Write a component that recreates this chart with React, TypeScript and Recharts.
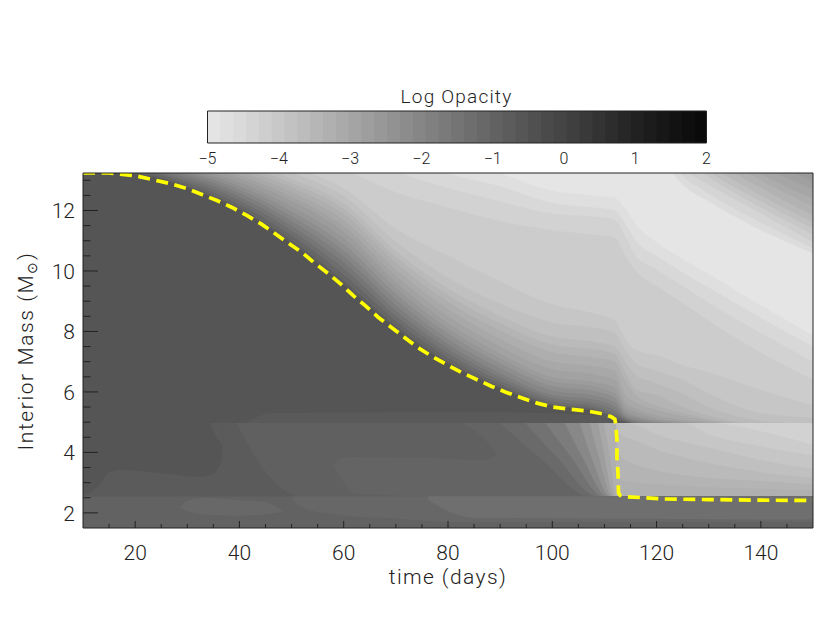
import React from 'react';
import { Area, ComposedChart, Label, Line, XAxis, YAxis } from 'recharts';

const FONT = 'Roboto, "DejaVu Sans", sans-serif';
const INK = '#222222';

// axis values
const timeTicks = [15, 20, 25, 30, 35, 40, 45, 50, 55, 60, 65, 70, 75, 80, 85, 90, 95, 100, 105, 110, 115, 120, 125, 130, 135, 140, 145];
const massTicks = [2, 2.5, 3, 3.5, 4, 4.5, 5, 5.5, 6, 6.5, 7, 7.5, 8, 8.5, 9, 9.5, 10, 10.5, 11, 11.5, 12, 12.5, 13];
const opacityTicks = [-5, -4, -3, -2, -1, 0, 1, 2];

// colour bar steps, left edge of each
const opacityBins = [-5, -4.82, -4.64, -4.46, -4.28, -4.1, -3.92, -3.74, -3.56, -3.38, -3.2, -3.02, -2.84, -2.66, -2.48, -2.3, -2.12, -1.94, -1.76, -1.58, -1.4, -1.22, -1.04, -0.86, -0.68, -0.5, -0.32, -0.14, 0.04, 0.22, 0.4, 0.58, 0.76, 0.94, 1.12, 1.3, 1.48, 1.66, 1.84];
const binGreys = ['#e4e4e4', '#dfdfdf', '#dadada', '#d4d4d4', '#cecece', '#c8c8c8', '#c2c2c2', '#bcbcbc', '#b6b6b6', '#b0b0b0', '#aaaaaa', '#a4a4a4', '#9e9e9e', '#989898', '#929292', '#8c8c8c', '#868686', '#808080', '#7a7a7a', '#747474', '#6e6e6e', '#686868', '#626262', '#5c5c5c', '#565656', '#505050', '#4a4a4a', '#454545', '#3f3f3f', '#393939', '#333333', '#2d2d2d', '#272727', '#212121', '#1c1c1c', '#171717', '#121212', '#0e0e0e', '#0a0a0a'];

// contours of the envelope above the photosphere, one mass per time
const gridTimes = [10, 20, 30, 40, 50, 60, 70, 80, 90, 100, 108, 112, 114, 116, 120, 125, 130, 140, 150];
const mass5e = [13.3, 13.2, 12.76, 12.02, 10.91, 9.56, 8.09, 6.94, 6.11, 5.53, 5.36, 5.05, 5.0, 4.9, 4.9, 4.9, 4.9, 4.9, 4.9];
const mass66 = [13.3, 13.24, 12.81, 12.09, 11.01, 9.68, 8.19, 7.01, 6.17, 5.57, 5.4, 5.13, 5.02, 4.92, 4.9, 4.9, 4.9, 4.9, 4.9];
const mass6e = [13.3, 13.3, 12.9, 12.21, 11.17, 9.88, 8.35, 7.14, 6.26, 5.62, 5.45, 5.2, 5.05, 4.95, 4.9, 4.9, 4.9, 4.9, 4.9];
const mass76 = [13.4, 13.35, 12.99, 12.33, 11.33, 10.08, 8.52, 7.28, 6.37, 5.7, 5.53, 5.28, 5.08, 4.97, 4.9, 4.9, 4.9, 4.9, 4.9];
const mass7e = [13.4, 13.4, 13.08, 12.45, 11.49, 10.28, 8.69, 7.43, 6.49, 5.8, 5.63, 5.38, 5.12, 5.0, 4.92, 4.9, 4.9, 4.9, 4.9];
const mass86 = [13.5, 13.45, 13.17, 12.57, 11.65, 10.48, 8.87, 7.58, 6.62, 5.9, 5.75, 5.5, 5.16, 5.05, 4.96, 4.9, 4.9, 4.9, 4.9];
const mass8e = [13.5, 13.5, 13.26, 12.69, 11.81, 10.68, 9.06, 7.75, 6.78, 6.05, 5.88, 5.65, 5.2, 5.1, 5.0, 4.92, 4.9, 4.9, 4.9];
const mass96 = [13.6, 13.6, 13.35, 12.81, 11.97, 10.88, 9.25, 7.93, 6.95, 6.2, 6.03, 5.8, 5.3, 5.17, 5.04, 4.96, 4.92, 4.9, 4.9];
const mass9c = [13.7, 13.7, 13.44, 12.93, 12.13, 11.08, 9.44, 8.1, 7.11, 6.35, 6.18, 5.95, 5.4, 5.23, 5.07, 5.0, 4.95, 4.9, 4.9];
const massA2 = [13.8, 13.8, 13.54, 13.06, 12.31, 11.3, 9.63, 8.28, 7.27, 6.49, 6.32, 6.15, 5.52, 5.35, 5.13, 5.02, 4.96, 4.9, 4.9];
const massA8 = [13.9, 13.9, 13.62, 13.17, 12.45, 11.48, 9.83, 8.5, 7.5, 6.75, 6.58, 6.4, 5.66, 5.46, 5.23, 5.08, 5.0, 4.9, 4.9];
const massAe = [14, 14, 13.71, 13.29, 12.61, 11.68, 10.05, 8.74, 7.75, 7.01, 6.85, 6.7, 5.9, 5.66, 5.4, 5.2, 5.05, 4.9, 4.9];
const massB4 = [14.1, 14.1, 13.8, 13.41, 12.77, 11.88, 10.27, 8.98, 8.03, 7.31, 7.14, 7.0, 6.39, 5.9, 5.56, 5.3, 5.1, 4.92, 4.9];
const massBa = [14.1, 14.1, 13.88, 13.52, 12.91, 12.06, 10.47, 9.2, 8.27, 7.57, 7.4, 7.25, 6.65, 6.1, 5.9, 5.5, 5.2, 4.95, 4.9];
const massC0 = [14.2, 14.2, 13.96, 13.62, 13.05, 12.23, 10.66, 9.42, 8.51, 7.83, 7.66, 7.5, 7.0, 6.55, 6.29, 5.95, 5.5, 5.05, 4.93];
const massC6 = [14.2, 14.2, 14.07, 13.77, 13.25, 12.48, 10.97, 9.78, 8.92, 8.3, 8.13, 7.95, 7.4, 6.95, 6.7, 6.4, 5.95, 5.3, 5.15];
const massCc = [14.3, 14.3, 14.18, 13.92, 13.45, 12.73, 11.4, 10.5, 9.65, 8.9, 8.6, 8.37, 7.75, 7.38, 7.21, 6.88, 6.65, 6.06, 5.56];
const massD2 = [14.5, 14.5, 14.5, 14.5, 14.4, 13.4, 12.6, 12.1, 11.65, 11.35, 11.2, 11.1, 10.5, 10.0, 9.5, 8.95, 8.35, 7.3, 6.4];
const massD8 = [14.6, 14.6, 14.6, 14.6, 14.6, 14.2, 13.3, 12.75, 12.3, 11.9, 11.8, 11.7, 11.15, 10.5, 10.05, 9.5, 8.95, 7.95, 7.0];
const massDf = [14.7, 14.7, 14.7, 14.7, 14.7, 14.7, 14.1, 13.24, 12.8, 12.25, 12.1, 12.0, 11.55, 11.0, 10.5, 9.95, 9.45, 8.45, 7.5];
const massE5 = [14.8, 14.8, 14.8, 14.8, 14.8, 14.8, 14.8, 14, 13.24, 12.65, 12.5, 12.42, 12.06, 11.55, 10.95, 10.4, 9.9, 8.86, 7.87];

const upperBands: [string, number[]][] = [
  ['#5e5e5e', mass5e], ['#666666', mass66], ['#6e6e6e', mass6e], ['#767676', mass76], ['#7e7e7e', mass7e], ['#868686', mass86],
  ['#8e8e8e', mass8e], ['#969696', mass96], ['#9c9c9c', mass9c], ['#a2a2a2', massA2], ['#a8a8a8', massA8], ['#aeaeae', massAe],
  ['#b4b4b4', massB4], ['#bababa', massBa], ['#c0c0c0', massC0], ['#c6c6c6', massC6], ['#cccccc', massCc], ['#d2d2d2', massD2],
  ['#d8d8d8', massD8], ['#dfdfdf', massDf], ['#e5e5e5', massE5],
];

// dark corner at the top right
const cornerTimes = [120, 125, 130, 140, 150];
const cornerDc = [14, 12.85, 12.3, 11.35, 10.58];
const cornerD5 = [14.2, 13.15, 12.55, 11.6, 10.75];
const cornerCe = [14.4, 13.4, 12.85, 11.9, 10.95];
const cornerC7 = [14.6, 13.7, 13.1, 12.1, 11.2];
const cornerC0 = [14.8, 14, 13.3, 12.3, 11.4];
const cornerB9 = [15, 14.3, 13.55, 12.5, 11.62];
const cornerB2 = [15.2, 14.6, 13.8, 12.75, 11.85];
const cornerAc = [15.4, 14.8, 14.05, 13, 12.15];
const cornerA6 = [15.6, 15, 14.3, 13.2, 12.4];
const cornerA0 = [15.8, 15.2, 14.55, 13.5, 12.7];
const corner9a = [16, 15.4, 14.8, 13.8, 12.95];
const cornerBands: [string, number[]][] = [
  ['#dcdcdc', cornerDc], ['#d5d5d5', cornerD5], ['#cecece', cornerCe], ['#c7c7c7', cornerC7], ['#c0c0c0', cornerC0], ['#b9b9b9', cornerB9],
  ['#b2b2b2', cornerB2], ['#acacac', cornerAc], ['#a6a6a6', cornerA6], ['#a0a0a0', cornerA0], ['#9a9a9a', corner9a],
];

// faint shapes inside the dark interior
const stripTimes = [41, 46.4, 69, 88, 111];
const stripTop = [4.97, 5.3, 5.33, 5.33, 5.2];
const pocket5bTimes = [10, 12.9, 15.2, 17.1, 24.8, 32.4, 35, 36, 36.7, 36.9, 112];
const pocket5bHigh = [2.55, 2.87, 3.36, 3.42, 3.32, 3.19, 3.3, 3.5, 3.86, 4.97, 4.97];
const leanTimes = [34.4, 35, 36, 36.8];
const leanLow = [4.97, 4.7, 4.4, 4.2];
const inner60Times = [39.5, 43.4, 50.3, 52, 112];
const inner60Low = [4.97, 3.75, 2.6, 2.55, 2.55];
const island64Times = [57.9, 59.3, 60.6, 62.5, 75.2, 86.7, 89.6, 92, 112];
const island64Low = [3.53, 3.2, 2.83, 2.63, 2.55, 2.55, 2.55, 2.55, 2.55];
const island64High = [3.53, 3.8, 3.85, 3.85, 3.82, 3.75, 3.98, 4.97, 4.97];
const wedge64Times = [82.9, 86.7, 89.6, 92];
const wedge64Low = [4.97, 4.5, 3.98, 3.98];

// below the helium core boundary
const coreTimes = [10, 150];
const coreLow = [1.5, 1.5];
const coreHigh = [2.55, 2.55];
const coreBandTimes = [50.3, 53, 59.3, 71.4, 80, 150];
const coreBandLow = [2.4, 2.1, 1.93, 1.8, 1.7, 1.7];
const coreIslandTimes = [28.6, 30, 33, 36, 40, 44.5, 48.3];
const coreIslandLow = [2.2, 2.05, 1.95, 1.92, 1.9, 1.95, 2.03];
const coreIslandHigh = [2.2, 2.4, 2.5, 2.48, 2.42, 2.38, 2.05];
const corePatchTimes = [76.2, 80.4, 84.8, 150];
const corePatchLow = [2.43, 2.03, 1.84, 1.78];

// fronts that sweep from upper left to lower right, time at three heights
const frontMasses = [4.97, 3.8, 2.55];
const fronts: [string, number[]][] = [
  ['#6a6a6a', [90, 97.7, 107.2]],
  ['#727272', [94.8, 101.1, 108.6]],
  ['#7c7c7c', [98.6, 103.8, 109.7]],
  ['#888888', [102.4, 105.9, 110.5]],
  ['#949494', [105.3, 107.6, 111.1]],
  ['#9e9e9e', [107.2, 109, 111.4]],
  ['#a8a8a8', [108.8, 110.1, 111.8]],
  ['#b0b0b0', [109.9, 111.1, 112.2]],
];

// shells right of the drop
const shellTimes = [112.2, 113, 116, 120, 125, 130, 140, 150];
const shellB4 = [3.3, 3.1, 3.0, 2.95, 2.9, 2.85, 2.8, 2.75];
const shellBa = [4.5, 3.9, 3.6, 3.4, 3.25, 3.15, 3.05, 2.95];
const shellC0 = [4.97, 4.6, 4.4, 4.1, 3.85, 3.65, 3.35, 3.15];
const shellC6 = [4.97, 4.97, 4.9, 4.6, 4.35, 4.15, 3.75, 3.45];
const shellCc = [4.97, 4.97, 4.97, 4.97, 4.97, 4.6, 4.2, 3.9];
const shellD2 = [4.97, 4.97, 4.97, 4.97, 4.97, 4.97, 4.7, 4.25];
const shellBands: [string, number[]][] = [
  ['#b4b4b4', shellB4], ['#bababa', shellBa], ['#c0c0c0', shellC0], ['#c6c6c6', shellC6], ['#cccccc', shellCc], ['#d2d2d2', shellD2],
];

// recombination front, the dashed line
const frontTimes = [10, 15, 20, 23.4, 26.7, 29.9, 32.8, 35.7, 38.6, 41.5, 44.3, 46.8, 49.5, 52, 54.5, 57, 59.5, 61.8, 64.3, 66.6, 69.1, 71.6, 74.1, 76.9, 79.6, 82.5, 85.4, 88.3, 91.1, 94.2, 97.1, 100.1, 103.4, 106.7, 109.7, 111.3, 112, 112.2, 112.4, 112.4, 112.6, 112.7, 113, 114.3, 117.8, 121.2, 130, 140, 150];
const frontMass = [13.24, 13.24, 13.15, 13.02, 12.89, 12.73, 12.53, 12.33, 12.1, 11.83, 11.54, 11.24, 10.91, 10.61, 10.25, 9.92, 9.56, 9.19, 8.83, 8.47, 8.14, 7.81, 7.48, 7.18, 6.92, 6.65, 6.42, 6.19, 5.99, 5.8, 5.63, 5.5, 5.43, 5.37, 5.27, 5.18, 5.1, 4.9, 4.41, 3.85, 3.32, 2.66, 2.58, 2.53, 2.5, 2.46, 2.44, 2.42, 2.41];

const TOP = 14;
const CORE = 4.97;

const band = (times: number[], low: (i: number) => number, high: (i: number) => number) =>
  times.map((t, i) => ({ t, band: [low(i), high(i)] }));

const Fill = (key: string, fill: string, data: { t: number; band: number[] }[], type: 'monotone' | 'linear' = 'monotone') => (
  <Area
    key={key}
    data={data}
    dataKey="band"
    type={type}
    stroke="none"
    fill={fill}
    fillOpacity={1}
    dot={false}
    activeDot={false}
    isAnimationActive={false}
  />
);

const axisText = { fontFamily: FONT, fontWeight: 300, fill: INK };

const TimeTick = ({ x, y, payload }: any) => (
  <g>
    <line x1={x} x2={x} y1={y} y2={y - (payload.value % 20 === 0 ? 7 : 4)} stroke={INK} />
    {payload.value % 20 === 0 && (
      <text x={x} y={y + 32} textAnchor="middle" fontSize={21} {...axisText}>{payload.value}</text>
    )}
  </g>
);

const TopTick = ({ x, y, payload }: any) => (
  <line x1={x} x2={x} y1={y} y2={y + (payload.value % 20 === 0 ? 7 : 4)} stroke={INK} />
);

const MassTick = ({ x, y, payload }: any) => (
  <g>
    <line x1={x} x2={x + (payload.value % 2 === 0 ? 15 : 7.5)} y1={y} y2={y} stroke={INK} />
    {payload.value % 2 === 0 && (
      <text x={x - 8} y={y + 8} textAnchor="end" fontSize={21} {...axisText}>{payload.value}</text>
    )}
  </g>
);

const RightTick = ({ x, y, payload }: any) => (
  <line x1={x} x2={x - (payload.value % 2 === 0 ? 15 : 7.5)} y1={y} y2={y} stroke={INK} />
);

const OpacityTick = ({ x, y, payload }: any) => (
  <text x={x} y={y + 21} textAnchor="middle" fontSize={16} {...axisText}>
    {payload.value < 0 ? `\u2212${-payload.value}` : payload.value}
  </text>
);

const MassTitle = () => (
  <text transform="translate(33 351) rotate(-90)" textAnchor="middle" fontSize={21} letterSpacing={1.6} {...axisText}>
    <tspan>Interior Mass  (M</tspan>
    <tspan fontSize={14} dy={4} fontFamily="DejaVu Sans">{'\u2299'}</tspan>
    <tspan dy={-4}>)</tspan>
  </text>
);

export default function App() {
  const frontRows = frontTimes.map((t, i) => ({ t, mass: frontMass[i] }));

  return (
    <div style={{ position: 'absolute', left: 0, top: 0, width: 830, height: 622, background: '#fff' }}>
      <div style={{ position: 'absolute', left: 0, top: 0 }}>
        <ComposedChart width={830} height={175} margin={{ top: 0, right: 0, bottom: 0, left: 0 }}>
          <XAxis
            dataKey="t"
            type="number"
            domain={[-5, 2]}
            ticks={opacityTicks}
            interval={0}
            allowDataOverflow
            height={32}
            tick={<OpacityTick />}
            tickLine={false}
            tickSize={0}
            tickMargin={0}
            stroke={INK}
          />
          <XAxis xAxisId="frame" orientation="top" type="number" domain={[-5, 2]} height={111} tick={false} tickLine={false} stroke={INK}>
            <Label
              content={() => (
                <text x={456.5} y={103} textAnchor="middle" fontSize={19} letterSpacing={1.2} {...axisText}>Log Opacity</text>
              )}
            />
          </XAxis>
          <YAxis domain={[0, 1]} width={207.5} tick={false} tickLine={false} stroke={INK} />
          <YAxis yAxisId="right" orientation="right" domain={[0, 1]} width={123.5} tick={false} tickLine={false} stroke={INK} />
          {opacityBins.map((edge, i) =>
            Fill(`bin-${i}`, binGreys[i], band([edge, 2], () => 0, () => 1), 'linear')
          )}
        </ComposedChart>
      </div>
      <div style={{ position: 'absolute', left: 0, top: 0 }}>
        <ComposedChart width={830} height={622} margin={{ top: 0, right: 0, bottom: 0, left: 0 }}>
          <XAxis
            dataKey="t"
            type="number"
            domain={[10, 150]}
            ticks={timeTicks}
            interval={0}
            allowDataOverflow
            height={94}
            tick={<TimeTick />}
            tickLine={false}
            tickSize={0}
            tickMargin={0}
            stroke={INK}
          >
            <Label
              content={() => (
                <text x={448} y={584} textAnchor="middle" fontSize={21} letterSpacing={1.4} {...axisText}>time (days)</text>
              )}
            />
          </XAxis>
          <XAxis xAxisId="top" orientation="top" type="number" domain={[10, 150]} ticks={timeTicks} interval={0} height={173} tick={<TopTick />} tickLine={false} tickSize={0} tickMargin={0} stroke={INK} />
          <YAxis
            type="number"
            domain={[1.5, 13.24]}
            ticks={massTicks}
            interval={0}
            allowDataOverflow
            width={83}
            tick={<MassTick />}
            tickLine={false}
            tickSize={0}
            tickMargin={0}
            stroke={INK}
          >
            <Label content={() => <MassTitle />} />
          </YAxis>
          <YAxis yAxisId="right" orientation="right" type="number" domain={[1.5, 13.24]} ticks={massTicks} interval={0} width={17} tick={<RightTick />} tickLine={false} tickSize={0} tickMargin={0} stroke={INK} />

          {Fill('interior', '#555555', band(coreTimes, () => 1.5, () => TOP))}
          {Fill('strip', '#5a5a5a', band(stripTimes, () => CORE, (i) => stripTop[i]))}
          {upperBands.map(([grey, lows]) => Fill(`up-${grey}`, grey, band(gridTimes, (i) => lows[i], () => TOP)))}
          {cornerBands.map(([grey, lows]) => Fill(`corner-${grey}`, grey, band(cornerTimes, (i) => lows[i], () => TOP + 3)))}

          {Fill('pocket-5b', '#5b5b5b', band(pocket5bTimes, () => 2.55, (i) => pocket5bHigh[i]))}
          {Fill('lean', '#5b5b5b', band(leanTimes, (i) => leanLow[i], () => CORE))}
          {Fill('inner-60', '#606060', band(inner60Times, (i) => inner60Low[i], () => CORE))}
          {Fill('island-64', '#646464', band(island64Times, (i) => island64Low[i], (i) => island64High[i]))}
          {Fill('wedge-64', '#646464', band(wedge64Times, (i) => wedge64Low[i], () => CORE))}
          {fronts.map(([grey, times]) =>
            Fill(
              `front-${grey}`,
              grey,
              band([...times, 150], (i) => (i < 3 ? frontMasses[i] : 2.55), () => CORE)
            )
          )}
          {shellBands.map(([grey, lows]) => Fill(`shell-${grey}`, grey, band(shellTimes, (i) => lows[i], () => CORE)))}

          {Fill('core', '#626262', band(coreTimes, (i) => coreLow[i], (i) => coreHigh[i]))}
          {Fill('core-band', '#676767', band(coreBandTimes, (i) => coreBandLow[i], () => 2.55))}
          {Fill('core-island', '#686868', band(coreIslandTimes, (i) => coreIslandLow[i], (i) => coreIslandHigh[i]))}
          {Fill('core-patch', '#6f6f6f', band(corePatchTimes, (i) => corePatchLow[i], () => 2.55))}

          <Line
            data={frontRows}
            dataKey="mass"
            type="linear"
            stroke="#ffff00"
            strokeWidth={3.7}
            strokeDasharray="12 6.5"
            dot={false}
            activeDot={false}
            isAnimationActive={false}
          />
        </ComposedChart>
      </div>
    </div>
  );
}
